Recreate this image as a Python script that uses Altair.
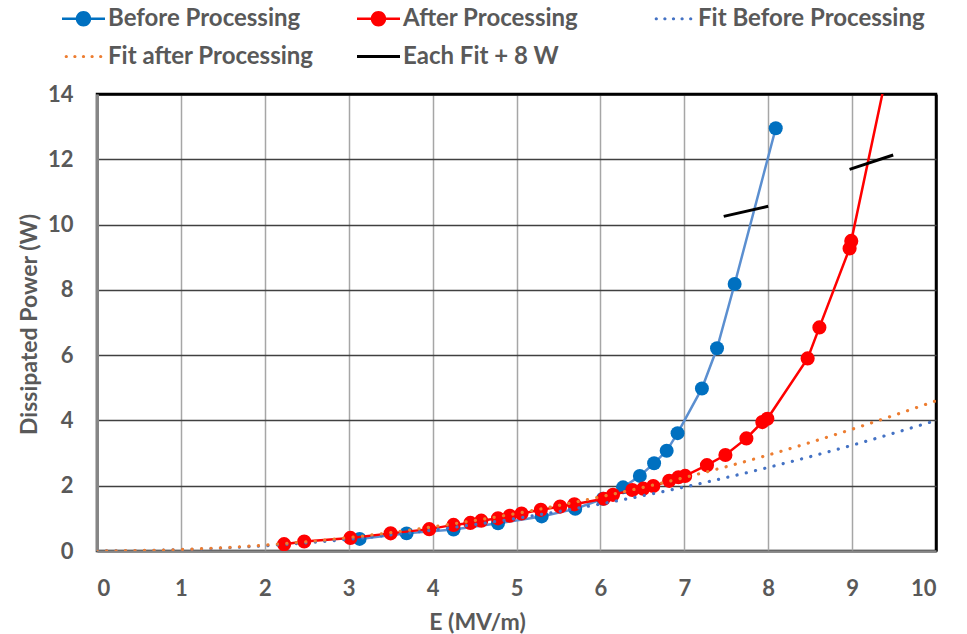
import altair as alt
import pandas as pd

# ---- data ----
blue_x = [3.13, 3.69, 4.25, 4.78, 5.30, 5.70, 6.03, 6.27, 6.47, 6.64, 6.79, 6.92, 7.21, 7.39, 7.60, 8.09]
blue_y = [0.37, 0.54, 0.66, 0.85, 1.06, 1.29, 1.60, 1.95, 2.30, 2.69, 3.07, 3.61, 4.98, 6.21, 8.18, 12.95]

red_x = [2.23, 2.47, 3.02, 3.50, 3.96, 4.25, 4.45, 4.58, 4.78, 4.92, 5.06, 5.29, 5.52, 5.69, 6.04, 6.15,
         6.38, 6.51, 6.63, 6.82, 6.93, 7.01, 7.27, 7.49, 7.74, 7.93, 7.99, 8.47, 8.61, 8.97, 8.99, 9.55]
red_y = [0.21, 0.29, 0.40, 0.54, 0.67, 0.80, 0.86, 0.93, 1.00, 1.08, 1.15, 1.26, 1.36, 1.43, 1.60, 1.72,
         1.87, 1.91, 1.99, 2.15, 2.26, 2.30, 2.63, 2.94, 3.45, 3.95, 4.05, 5.90, 6.85, 9.27, 9.50, 16.3]

fit_x = [0, 1, 2, 3, 4, 5, 6, 7, 8, 9, 10]
fit_before = [0, 0.04, 0.16, 0.36, 0.64, 1.00, 1.44, 1.96, 2.56, 3.24, 4.00]
fit_after = [0, 0.046, 0.18, 0.41, 0.74, 1.15, 1.66, 2.25, 2.94, 3.73, 4.60]

seg_x = [7.47, 8.00, 8.97, 9.49]
seg_y = [10.25, 10.56, 11.69, 12.13]
seg_id = ["before", "before", "after", "after"]

series = ["Before Processing", "After Processing", "Fit Before Processing",
          "Fit after Processing", "Each Fit + 8 W"]
colors = ["#0070C0", "#FF0000", "#4472C4", "#ED7D31", "#000000"]

x_ticks = list(range(0, 11))
y_ticks = list(range(0, 15, 2))

# ---- legend symbol shapes (unit space) ----
def circ(cx, r):
    return f"M{cx - r},0A{r},{r},0,1,1,{cx + r},0A{r},{r},0,1,1,{cx - r},0Z"

LINE_MARKER = "M-1,-0.06H1V0.06H-1Z " + circ(0, 0.36)
DOTS = " ".join(circ(cx, 0.075) for cx in [-0.8, -0.4, 0.0, 0.4, 0.8])
SOLID = "M-1,-0.07H1V0.07H-1Z"
shapes = [LINE_MARKER, LINE_MARKER, DOTS, DOTS, SOLID]

FONT = "Lato"
GREY = "#595959"

blue_df = pd.DataFrame({"x": blue_x, "y": blue_y})
red_df = pd.DataFrame({"x": red_x, "y": red_y})
fitb_df = pd.DataFrame({"x": fit_x, "y": fit_before})
fita_df = pd.DataFrame({"x": fit_x, "y": fit_after})
seg_df = pd.DataFrame({"x": seg_x, "y": seg_y, "seg": seg_id})
leg_df = pd.DataFrame({"series": series})

x_enc = alt.X(
    "x:Q",
    scale=alt.Scale(domain=[0, 10], nice=False, zero=False),
    axis=alt.Axis(
        values=x_ticks, title="E (MV/m)", format="d",
        grid=True,
        gridColor={"condition": {"test": "datum.value == 10", "value": "#000000"}, "value": "#A6A6A6"},
        gridWidth={"condition": {"test": "datum.value == 10", "value": 2.5}, "value": 1.5},
        domainColor="#868686", domainWidth=2.5,
        ticks=False, tickSize=0,
        labelFont=FONT, labelFontSize=22, labelFontWeight="bold", labelColor=GREY,
        labelPadding=27, labelBaseline="top",
        titleFont=FONT, titleFontSize=23, titleFontWeight="bold", titleColor=GREY,
        titleX=380, titleY=78, titleBaseline="alphabetic", titleAlign="center",
    ),
)
y_enc = alt.Y(
    "y:Q",
    scale=alt.Scale(domain=[0, 14], nice=False, zero=False),
    axis=alt.Axis(
        values=y_ticks, title="Dissipated Power (W)", format="d",
        grid=True,
        gridColor={"condition": {"test": "datum.value == 14", "value": "#000000"}, "value": "#404040"},
        gridWidth={"condition": {"test": "datum.value == 14", "value": 2.5}, "value": 1.5},
        domainColor="#868686", domainWidth=3,
        ticks=False, tickSize=0,
        labelFont=FONT, labelFontSize=22, labelFontWeight="bold", labelColor=GREY,
        labelPadding=24,
        titleFont=FONT, titleFontSize=23, titleFontWeight="bold", titleColor=GREY,
        titleX=-68, titleY=230, titleAngle=270, titleBaseline="middle", titleAlign="center",
    ),
)

blue_line = alt.Chart(blue_df).mark_line(color="#5B8FD0", strokeWidth=2.5, clip=True).encode(x=x_enc, y=y_enc)
blue_pts = alt.Chart(blue_df).mark_point(filled=True, color="#0070C0", size=195, opacity=1, clip=True).encode(x=x_enc, y=y_enc)
red_line = alt.Chart(red_df).mark_line(color="#FF0000", strokeWidth=2.5, clip=True).encode(x=x_enc, y=y_enc)
red_pts = alt.Chart(red_df).mark_point(filled=True, color="#FF0000", size=200, opacity=1, clip=True).encode(x=x_enc, y=y_enc)
fitb = alt.Chart(fitb_df).mark_line(color="#4472C4", strokeWidth=3.2, strokeDash=[0.1, 9.4],
                                    strokeCap="round", interpolate="monotone", clip=True).encode(x=x_enc, y=y_enc)
fita = alt.Chart(fita_df).mark_line(color="#ED7D31", strokeWidth=3.2, strokeDash=[0.1, 9.4],
                                    strokeCap="round", interpolate="monotone", clip=True).encode(x=x_enc, y=y_enc)
segs = alt.Chart(seg_df).mark_line(color="#000000", strokeWidth=3, clip=True).encode(
    x=x_enc, y=y_enc, detail="seg:N")

legend = alt.Legend(
    title=None, orient="none", legendX=-35, legendY=-97, columns=3, gridAlign="all",
    direction="horizontal",
    columnPadding=22, rowPadding=4, padding=0,
    labelFont=FONT, labelFontSize=24, labelFontWeight="bold", labelColor=GREY, labelLimit=500,
    labelOffset=3, symbolSize=1849, symbolStrokeWidth=0, symbolOpacity=1,
)
leg_layer = alt.Chart(leg_df).mark_point(filled=True, opacity=0, size=10).encode(
    color=alt.Color("series:N", scale=alt.Scale(domain=series, range=colors), sort=series, legend=legend),
    shape=alt.Shape("series:N", scale=alt.Scale(domain=series, range=shapes), sort=series, legend=legend),
)

chart = alt.layer(blue_line, blue_pts, red_line, red_pts, fitb, fita, segs, leg_layer).properties(
    width=839, height=457,
    autosize=alt.AutoSizeParams(type="none"),
    padding={"left": 97, "top": 94, "right": 31, "bottom": 83},
    background="white",
).configure_view(stroke="#000000", strokeWidth=2.5)

chart.save("out.html", embed_options={"renderer": "svg", "actions": False})
